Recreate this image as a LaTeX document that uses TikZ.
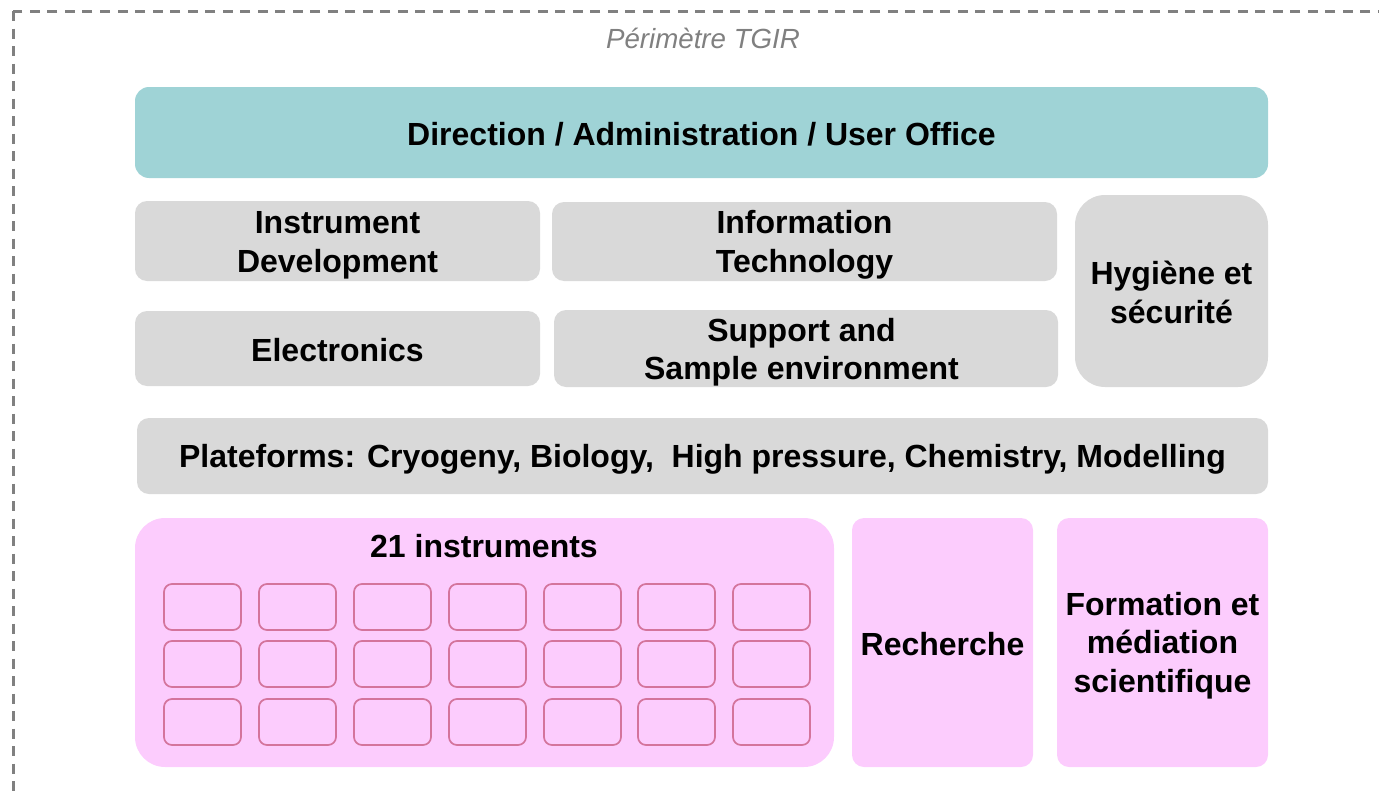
\documentclass[tikz,border=0pt]{standalone}
\usepackage{fontspec}
\setmainfont{Liberation Sans}
\definecolor{teal1}{HTML}{9FD3D6}
\definecolor{grey1}{HTML}{D9D9D9}
\definecolor{pink1}{HTML}{FCCCFD}
\definecolor{pinkline}{HTML}{D4749C}
\definecolor{frame1}{HTML}{808080}
\begin{document}
\begin{tikzpicture}[x=1pt,y=-1pt,
  box/.style={rounded corners=12pt, inner sep=0pt},
  greybox/.style={box, fill=grey1},
  txt/.style={align=center, inner sep=0pt, font=\fontsize{32}{38.5}\selectfont\bfseries},
  smallbox/.style={draw=pinkline, line width=1.7pt, rounded corners=8pt,
    minimum width=77pt, minimum height=46pt, inner sep=0pt},
]
\useasboundingbox (0,0) rectangle (1379,795);
\clip (0,0) rectangle (1379,795);
\draw[frame1, line width=3pt, dash pattern=on 10pt off 7.5pt] (13,11) rectangle (1420,840);
\node[text=frame1, font=\fontsize{27.7}{32}\selectfont\itshape] (title) at (703,38) {Périmètre TGIR};

\node[box, fill=teal1, rounded corners=14pt, minimum width=1133pt, minimum height=91pt] (dir) at (701.5,132.5) {};
\node[txt] (dirT) at (701.5,134) {Direction / Administration / User Office};

\node[greybox, minimum width=405pt, minimum height=80pt] (instdev) at (337.5,241) {};
\node[txt] (instdevT) at (337.5,245.5) {Instrument\\Development};
\node[greybox, minimum width=505pt, minimum height=79pt] (it) at (804.5,241.5) {};
\node[txt] (itT) at (804.5,245) {Information\\Technology};
\node[greybox, rounded corners=30pt, minimum width=193pt, minimum height=192pt] (hyg) at (1171.5,291) {};
\node[txt] (hygT) at (1171.5,292.5) {Hygiène et\\sécurité};
\node[greybox, minimum width=405pt, minimum height=75pt] (elec) at (337.5,348.5) {};
\node[txt] (elecT) at (337.5,350.5) {Electronics};
\node[greybox, minimum width=504pt, minimum height=77pt] (supp) at (806,348.5) {};
\node[txt] (suppT) at (801.5,352) {Support and\\Sample environment};

\node[greybox, minimum width=1131pt, minimum height=76pt] (plat) at (702.5,456) {};
\node[txt] (platT) at (702.5,459) {Plateforms: Cryogeny, Biology,\ \ High pressure, Chemistry, Modelling};

\node[box, fill=pink1, rounded corners=30pt, minimum width=699pt, minimum height=249pt] (instr) at (484.5,642.5) {};
\node[txt] (instrT) at (484,546.5) {21 instruments};
\node[box, fill=pink1, minimum width=181pt, minimum height=249pt] (rech) at (942.5,642.5) {};
\node[txt] (rechT) at (942.5,644.5) {Recherche};
\node[box, fill=pink1, minimum width=211pt, minimum height=249pt] (form) at (1162.5,642.5) {};
\node[txt] (formT) at (1162.5,645.5) {Formation et\\médiation\\scientifique};

\foreach \r [count=\ri] in {607,664,722}{
  \foreach \c [count=\ci] in {202.5,297.5,392.5,487.5,582.5,676.5,771.5}{
    \node[smallbox] (s\ri\ci) at (\c,\r) {};
  }
}
\end{tikzpicture}
\end{document}
